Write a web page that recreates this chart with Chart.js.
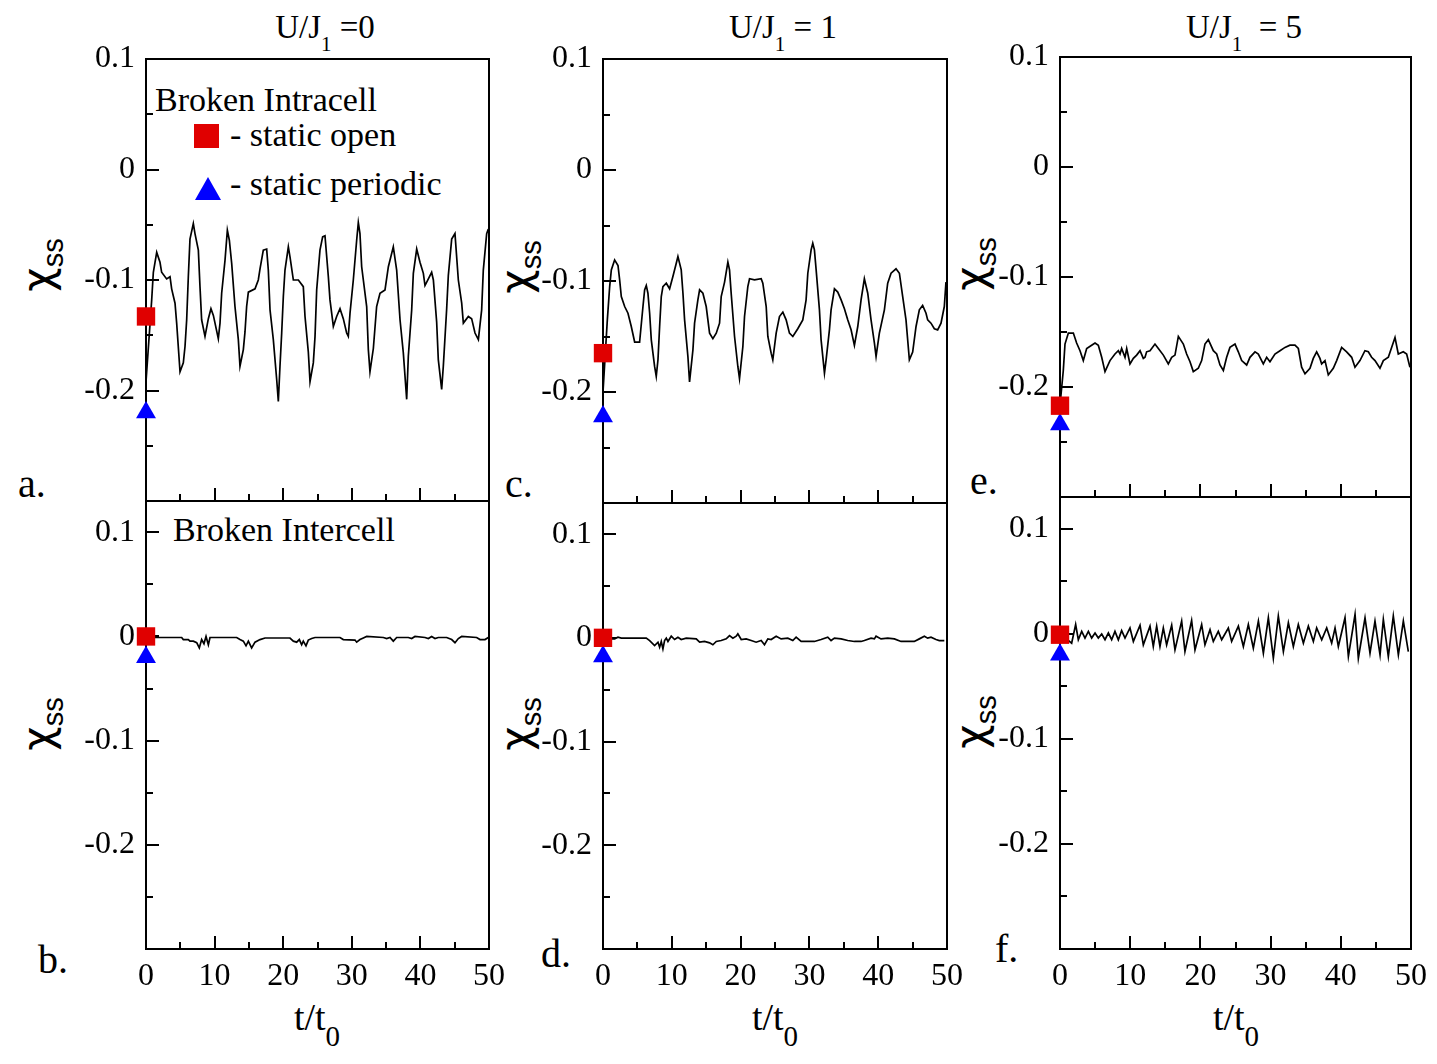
<!DOCTYPE html>
<html>
<head>
<meta charset="utf-8">
<script src="https://cdn.jsdelivr.net/npm/chart.js@4.4.1/dist/chart.umd.min.js"></script>
<style>
  body { margin: 0; background: #fff; }
  #page { position: relative; width: 1437px; height: 1064px; overflow: hidden;
          font-family: "Liberation Serif", "Times New Roman", serif; color: #000; }
  .panel { position: absolute; }
  .txt { position: absolute; white-space: nowrap; line-height: 1; }
  .title { font-size: 33px; transform: translateX(-50%); }
  .title sub, .tlab sub { position: relative; vertical-align: baseline; }
  .title sub { font-size: 21px; top: 13px; }
  .tlab { font-size: 38px; transform: translateX(-50%); }
  .tlab sub { font-size: 29px; top: 16px; }
  .chi { font-family: "DejaVu Sans", sans-serif; font-size: 42px;
         transform: translate(-50%, -50%) rotate(-90deg); }
  .chi sub { font-family: "Liberation Sans", sans-serif; font-size: 29px; position: relative;
             top: 11px; vertical-align: baseline; }
  .let { font-size: 40px; }
  .leg { font-size: 34px; }
  .sq { position: absolute; background: #e00000; }
  .tri { position: absolute; width: 0; height: 0; border-left: 13px solid transparent;
         border-right: 13px solid transparent; border-bottom: 23px solid #0000ff; }
</style>
</head>
<body>
<div id="page">
  <div class="txt title" style="left:325px; top:11px">U/J<sub>1</sub> =0</div>
  <div class="txt title" style="left:783px; top:11px">U/J<sub>1</sub> = 1</div>
  <div class="txt title" style="left:1244px; top:11px">U/J<sub>1</sub> &nbsp;= 5</div>

  <div class="txt chi" style="left:38px; top:265px">χ<sub>ss</sub></div>
  <div class="txt chi" style="left:38px; top:724px">χ<sub>ss</sub></div>
  <div class="txt chi" style="left:516px; top:267px">χ<sub>ss</sub></div>
  <div class="txt chi" style="left:516px; top:724px">χ<sub>ss</sub></div>
  <div class="txt chi" style="left:971px; top:264px">χ<sub>ss</sub></div>
  <div class="txt chi" style="left:971px; top:722px">χ<sub>ss</sub></div>

  <div class="txt let" style="left:18px; top:464px">a.</div>
  <div class="txt let" style="left:38px; top:940px">b.</div>
  <div class="txt let" style="left:505px; top:464px">c.</div>
  <div class="txt let" style="left:541px; top:934px">d.</div>
  <div class="txt let" style="left:970px; top:461px">e.</div>
  <div class="txt let" style="left:995px; top:929px">f.</div>

  <div class="txt tlab" style="left:317px; top:998px">t/t<sub>0</sub></div>
  <div class="txt tlab" style="left:775px; top:998px">t/t<sub>0</sub></div>
  <div class="txt tlab" style="left:1236px; top:998px">t/t<sub>0</sub></div>

  <div class="txt leg" style="left:155px; top:83px">Broken Intracell</div>
  <div class="sq" style="left:194px; top:124px; width:25px; height:24px"></div>
  <div class="txt leg" style="left:230px; top:118px">- static open</div>
  <div class="tri" style="left:195px; top:177px"></div>
  <div class="txt leg" style="left:230px; top:167px">- static periodic</div>
  <div class="txt leg" style="left:173px; top:513px">Broken Intercell</div>
</div>

<script>
// tick values
const xMajor = [0, 10, 20, 30, 40, 50];
const xMinor = [5, 15, 25, 35, 45];
const yMajor = [0.1, 0, -0.1, -0.2];
const yMinor = [0.05, -0.05, -0.15, -0.25];
const yMin = -0.3;
const yMaxTop = 0.1;
const yMaxBottom = 0.13;

// static values at t = 0, panels a..f
const staticOpen = [-0.133, 0.0, -0.165, 0.0, -0.217, -0.001];
const staticPeriodic = [-0.220, -0.020, -0.222, -0.018, -0.234, -0.020];

// [t/t0, chi_ss]
const seriesA = [[0,-0.192],[0.83,-0.118],[1.07,-0.093],[1.56,-0.075],[2.04,-0.084],[2.28,-0.093],[3.01,-0.099],[3.50,-0.097],[3.74,-0.108],[4.23,-0.121],
  [4.47,-0.139],[4.96,-0.183],[5.44,-0.175],[5.69,-0.160],[5.93,-0.136],[6.17,-0.097],[6.41,-0.063],[6.90,-0.049],[7.14,-0.058],[7.63,-0.073],
  [7.87,-0.106],[8.11,-0.136],[8.60,-0.151],[9.09,-0.135],[9.47,-0.126],[9.82,-0.132],[10.06,-0.139],[10.54,-0.153],[10.79,-0.139],[11.03,-0.112],
  [11.52,-0.082],[11.86,-0.055],[12.15,-0.064],[12.49,-0.085],[12.97,-0.124],[13.46,-0.154],[13.70,-0.178],[14.19,-0.163],[14.43,-0.147],[14.67,-0.124],
  [14.92,-0.111],[15.89,-0.108],[16.37,-0.100],[16.62,-0.090],[17.10,-0.073],[17.59,-0.072],[17.83,-0.091],[18.08,-0.127],[18.56,-0.154],[19.05,-0.190],
  [19.29,-0.210],[19.53,-0.178],[19.78,-0.148],[20.02,-0.115],[20.26,-0.091],[20.75,-0.070],[20.99,-0.079],[21.48,-0.100],[22.21,-0.100],[22.93,-0.106],
  [23.18,-0.133],[23.66,-0.165],[23.91,-0.192],[24.39,-0.175],[24.64,-0.151],[24.88,-0.109],[25.36,-0.073],[25.75,-0.061],[26.09,-0.060],[26.58,-0.097],
  [26.82,-0.118],[27.31,-0.142],[27.79,-0.133],[28.28,-0.126],[28.76,-0.135],[29.25,-0.148],[29.49,-0.151],[29.74,-0.130],[30.22,-0.100],[30.71,-0.064],
  [30.95,-0.048],[31.19,-0.058],[31.44,-0.088],[32.17,-0.124],[32.41,-0.163],[32.65,-0.183],[33.14,-0.162],[33.62,-0.124],[34.11,-0.112],[34.84,-0.109],
  [35.33,-0.088],[36.05,-0.070],[36.54,-0.091],[37.03,-0.136],[37.51,-0.166],[38.00,-0.208],[38.24,-0.169],[38.73,-0.127],[38.97,-0.094],[39.46,-0.072],
  [39.94,-0.084],[40.43,-0.094],[40.67,-0.105],[41.16,-0.099],[41.64,-0.093],[41.89,-0.100],[42.37,-0.138],[42.61,-0.172],[43.10,-0.199],[43.34,-0.178],
  [43.83,-0.126],[44.07,-0.096],[44.56,-0.063],[45.04,-0.058],[45.53,-0.100],[46.02,-0.121],[46.26,-0.139],[46.99,-0.133],[47.47,-0.135],[47.96,-0.148],
  [48.45,-0.154],[48.93,-0.127],[49.17,-0.091],[49.66,-0.058],[49.90,-0.054]];

const seriesB = [[0,0.0],[1.07,-0.001],[5.20,-0.001],[5.44,-0.003],[6.17,-0.003],[6.41,-0.0045],[6.90,-0.0045],[7.39,-0.006],[7.77,-0.011],[8.11,-0.003],
  [8.45,-0.007],[8.75,0.0],[9.09,-0.008],[9.33,-0.001],[13.22,-0.001],[13.70,-0.003],[14.19,-0.0045],[14.58,-0.009],[14.92,-0.0045],[15.40,-0.011],
  [15.89,-0.0055],[16.62,-0.003],[17.35,-0.0015],[20.99,-0.0015],[21.48,-0.0045],[21.96,-0.0055],[22.35,-0.003],[22.69,-0.008],[22.93,-0.0045],[23.32,-0.009],
  [23.66,-0.0035],[24.15,-0.002],[24.64,-0.001],[28.28,-0.001],[28.76,-0.003],[30.47,-0.0035],[30.71,-0.0055],[31.19,-0.003],[31.68,-0.0015],[32.17,0.0],
  [34.60,-0.001],[35.08,-0.002],[35.57,-0.001],[36.05,-0.0045],[36.54,-0.001],[38.24,-0.001],[38.73,-0.002],[39.21,0.0],[40.67,-0.001],[41.16,-0.002],
  [41.64,0.0],[42.13,-0.002],[42.61,-0.001],[43.83,-0.001],[44.56,-0.003],[45.04,-0.006],[45.53,-0.002],[46.02,0.0],[48.20,-0.001],[48.69,-0.003],
  [49.42,-0.003],[49.90,-0.001]];

const seriesC = [[0,-0.200],[0.63,-0.135],[0.97,-0.105],[1.21,-0.090],[1.69,-0.081],[2.18,-0.086],[2.42,-0.099],[2.66,-0.114],[3.15,-0.123],[3.63,-0.129],
  [4.11,-0.141],[4.60,-0.155],[5.32,-0.155],[5.81,-0.123],[6.05,-0.108],[6.29,-0.104],[6.53,-0.111],[6.78,-0.129],[7.02,-0.153],[7.50,-0.177],
  [7.74,-0.186],[7.99,-0.171],[8.23,-0.141],[8.47,-0.114],[8.71,-0.105],[9.20,-0.102],[9.68,-0.107],[10.16,-0.096],[10.65,-0.084],[10.89,-0.078],
  [11.37,-0.090],[11.62,-0.111],[11.86,-0.135],[12.34,-0.168],[12.58,-0.191],[13.07,-0.162],[13.31,-0.138],[13.79,-0.117],[14.04,-0.108],[14.52,-0.111],
  [15.00,-0.123],[15.49,-0.147],[15.97,-0.152],[16.46,-0.147],[16.94,-0.138],[17.18,-0.114],[17.67,-0.101],[18.15,-0.083],[18.39,-0.090],[18.63,-0.111],
  [19.12,-0.150],[19.60,-0.177],[19.84,-0.188],[20.33,-0.159],[20.57,-0.132],[21.05,-0.105],[21.30,-0.098],[22.02,-0.099],[22.99,-0.098],[23.23,-0.102],
  [23.72,-0.123],[23.96,-0.150],[24.44,-0.165],[24.68,-0.171],[25.17,-0.147],[25.65,-0.132],[26.14,-0.128],[26.62,-0.135],[27.10,-0.147],[27.59,-0.150],
  [28.31,-0.143],[29.04,-0.135],[29.52,-0.117],[29.77,-0.093],[30.25,-0.072],[30.49,-0.066],[30.73,-0.072],[30.98,-0.090],[31.46,-0.126],[31.70,-0.153],
  [32.19,-0.183],[32.43,-0.171],[32.91,-0.144],[33.15,-0.126],[33.64,-0.107],[34.12,-0.110],[34.61,-0.117],[35.09,-0.125],[35.57,-0.135],[36.06,-0.144],
  [36.54,-0.158],[37.03,-0.141],[37.51,-0.117],[37.99,-0.098],[38.48,-0.111],[38.96,-0.135],[39.45,-0.156],[39.69,-0.168],[40.17,-0.147],[40.90,-0.126],
  [41.38,-0.102],[41.87,-0.093],[42.59,-0.089],[43.08,-0.093],[43.56,-0.114],[44.04,-0.135],[44.53,-0.171],[45.01,-0.164],[45.50,-0.141],[45.98,-0.126],
  [46.46,-0.122],[46.95,-0.129],[47.19,-0.135],[47.67,-0.138],[48.16,-0.143],[48.64,-0.144],[49.13,-0.138],[49.61,-0.123],[49.85,-0.101]];

const seriesD = [[0,-0.001],[1.69,-0.001],[2.18,0.0006],[2.66,-0.0003],[6.29,-0.0003],[6.78,-0.0026],[7.50,-0.0074],[7.99,-0.0042],[8.23,-0.009],[8.47,-0.0035],
  [8.71,-0.0106],[8.95,-0.0026],[9.20,-0.0003],[9.44,-0.0035],[9.92,0.0016],[10.41,-0.0016],[10.89,0.0006],[11.37,-0.0016],[12.10,-0.0003],[13.55,-0.001],
  [14.04,-0.0042],[14.76,-0.0035],[15.49,-0.0048],[15.97,-0.0067],[16.46,-0.0035],[17.18,-0.0026],[17.91,-0.001],[18.39,0.0022],[18.88,-0.0003],[19.36,0.0016],
  [19.60,0.0038],[20.09,-0.0016],[20.81,-0.001],[21.54,-0.0026],[22.26,-0.0042],[22.99,-0.0026],[23.47,-0.0067],[23.96,-0.001],[24.44,-0.0016],[25.17,0.0016],
  [25.89,-0.001],[26.86,-0.0003],[27.59,-0.0026],[28.07,0.0006],[28.80,-0.0035],[30.73,-0.0035],[31.70,-0.0016],[32.67,0.0006],[33.15,-0.0026],[33.64,-0.0003],
  [34.61,-0.001],[35.57,-0.0026],[36.54,-0.0035],[37.51,-0.0035],[37.99,-0.0026],[38.96,-0.0003],[39.45,-0.001],[39.69,0.0016],[40.41,-0.001],[41.38,-0.0003],
  [42.35,-0.001],[43.32,-0.0035],[45.25,-0.0035],[45.98,-0.001],[46.71,0.0016],[47.19,-0.0003],[47.67,0.0006],[48.40,-0.0016],[48.88,-0.0026],[49.61,-0.0026]];

const seriesE = [[0.1,-0.210],[0.47,-0.185],[0.71,-0.161],[1.19,-0.151],[1.90,-0.151],[2.37,-0.160],[2.85,-0.167],[3.32,-0.176],[3.80,-0.165],[4.51,-0.162],
  [4.99,-0.160],[5.46,-0.162],[5.94,-0.173],[6.41,-0.186],[7.12,-0.176],[7.83,-0.170],[8.31,-0.167],[8.55,-0.170],[8.78,-0.165],[9.26,-0.173],
  [9.50,-0.165],[9.97,-0.179],[10.45,-0.174],[10.92,-0.171],[11.40,-0.167],[11.87,-0.174],[12.11,-0.173],[12.34,-0.168],[12.82,-0.167],[13.53,-0.161],
  [14.01,-0.165],[14.72,-0.171],[15.43,-0.179],[15.91,-0.173],[16.38,-0.171],[16.86,-0.154],[17.57,-0.161],[18.04,-0.170],[18.52,-0.177],[18.99,-0.186],
  [19.70,-0.183],[20.18,-0.176],[20.65,-0.161],[21.13,-0.157],[21.84,-0.167],[22.32,-0.170],[22.79,-0.180],[23.27,-0.185],[23.74,-0.173],[24.21,-0.164],
  [24.93,-0.161],[25.40,-0.168],[25.88,-0.176],[26.59,-0.180],[27.06,-0.173],[27.78,-0.168],[28.25,-0.170],[28.96,-0.179],[29.44,-0.173],[29.91,-0.177],
  [30.62,-0.170],[31.34,-0.167],[32.05,-0.164],[32.76,-0.162],[33.47,-0.162],[33.95,-0.165],[34.42,-0.182],[34.90,-0.188],[35.61,-0.183],[36.08,-0.174],
  [36.56,-0.168],[37.03,-0.174],[37.27,-0.179],[37.75,-0.176],[38.22,-0.189],[38.93,-0.183],[39.41,-0.176],[40.12,-0.164],[40.83,-0.168],[41.55,-0.173],
  [42.02,-0.182],[42.73,-0.176],[43.44,-0.167],[43.92,-0.168],[44.39,-0.173],[44.87,-0.176],[45.58,-0.183],[46.06,-0.176],[46.77,-0.173],[47.24,-0.164],
  [47.72,-0.155],[48.19,-0.170],[48.90,-0.168],[49.38,-0.170],[49.85,-0.182]];

const seriesF = [[0,0.0],[1.66,-0.009],[2.23,0.0087],[2.61,-0.0058],[3.09,0.0022],[3.56,-0.0042],[4.04,0.0022],[4.51,-0.0042],[4.99,0.0006],[5.46,-0.0042],
  [5.94,-0.0003],[6.41,-0.0058],[6.89,0.0006],[7.36,-0.0058],[7.83,0.0022],[8.31,-0.0058],[8.78,0.0029],[9.26,-0.0042],[9.97,0.0054],[10.45,-0.0074],
  [11.40,0.0080],[11.87,-0.0106],[12.82,0.0071],[13.29,-0.0122],[13.77,0.0071],[14.24,-0.0122],[14.72,0.0054],[15.19,-0.0106],[15.91,0.0080],[16.38,-0.0154],
  [17.33,0.0119],[17.80,-0.0170],[18.75,0.0125],[19.23,-0.0154],[20.18,0.0087],[20.65,-0.0106],[21.37,0.0038],[21.84,-0.0074],[22.55,0.0022],[23.03,-0.0058],
  [23.98,0.0054],[24.45,-0.0074],[25.41,0.0071],[26.12,-0.0122],[26.83,0.0087],[27.54,-0.0138],[28.26,0.0119],[28.97,-0.0186],[29.68,0.0151],[30.39,-0.0234],
  [31.10,0.0167],[31.82,-0.0170],[32.53,0.0103],[33.24,-0.0122],[33.95,0.0087],[34.67,-0.0090],[35.38,0.0071],[36.09,-0.0074],[36.56,0.0054],[37.28,-0.0058],
  [37.99,0.0054],[38.70,-0.0090],[39.18,0.0054],[39.65,-0.0122],[40.60,0.0151],[41.08,-0.0218],[42.03,0.0183],[42.50,-0.0234],[43.45,0.0151],[44.16,-0.0186],
  [44.87,0.0119],[45.59,-0.0202],[46.06,0.0135],[46.77,-0.0218],[47.48,0.0167],[48.20,-0.0202],[48.91,0.0119],[49.62,-0.0170]];

const serif = '"Liberation Serif", "Times New Roman", serif';

// chart areas on the page (left, top, right, bottom)
const panels = [
  { data: seriesA, box: [146, 59, 489, 501], yMax: yMaxTop, showX: false },
  { data: seriesB, box: [146, 501, 489, 949], yMax: yMaxBottom, showX: true },
  { data: seriesC, box: [603, 59, 947, 503], yMax: yMaxTop, showX: false },
  { data: seriesD, box: [603, 503, 947, 949], yMax: yMaxBottom, showX: true },
  { data: seriesE, box: [1060, 57, 1411, 497], yMax: yMaxTop, showX: false },
  { data: seriesF, box: [1060, 497, 1411, 949], yMax: yMaxBottom, showX: true }
];

// room around each chart area for the tick labels (must exceed label half-height + padding)
const PAD_L = 90, PAD_T = 36, PAD_R = 35, PAD_B = 50;

// frame plus inward ticks
const frameTicks = {
  id: 'frameTicks',
  beforeDatasetsDraw(chart) {
    const { ctx, chartArea: a, scales: { x, y } } = chart;
    ctx.save();
    ctx.strokeStyle = '#000';
    ctx.lineWidth = 2;
    ctx.beginPath();
    const xt = (vals, len) => vals.forEach(v => {
      if (v <= x.min || v >= x.max) return;
      const px = Math.round(x.getPixelForValue(v));
      ctx.moveTo(px, a.bottom);
      ctx.lineTo(px, a.bottom - len);
    });
    const yt = (vals, len) => vals.forEach(v => {
      if (v <= y.min || v >= y.max) return;
      const py = Math.round(y.getPixelForValue(v));
      ctx.moveTo(a.left, py);
      ctx.lineTo(a.left + len, py);
    });
    xt(xMajor, 13); xt(xMinor, 7);
    yt(yMajor, 13); yt(yMinor, 7);
    ctx.stroke();
    ctx.strokeRect(a.left, a.top, a.right - a.left, a.bottom - a.top);
    ctx.restore();
  }
};

const page = document.getElementById('page');

panels.forEach((p, i) => {
  const [L, T, R, B] = p.box;
  const w = R - L + PAD_L + PAD_R;
  const h = B - T + PAD_T + PAD_B;
  const div = document.createElement('div');
  div.className = 'panel';
  div.style.left = (L - PAD_L) + 'px';
  div.style.top = (T - PAD_T) + 'px';
  const cv = document.createElement('canvas');
  cv.width = w; cv.height = h;
  cv.style.width = w + 'px'; cv.style.height = h + 'px';
  div.appendChild(cv);
  page.appendChild(div);

  new Chart(cv, {
    type: 'scatter',
    data: {
      datasets: [
        { data: [{ x: 0, y: staticOpen[i] }], pointStyle: 'rect', pointRadius: 13,
          backgroundColor: '#e00000', borderWidth: 0, clip: false },
        { data: [{ x: 0, y: staticPeriodic[i] }], pointStyle: 'triangle', pointRadius: 11.5,
          backgroundColor: '#0000ff', borderWidth: 0, clip: false },
        { data: p.data.map(d => ({ x: d[0], y: d[1] })), showLine: true, pointRadius: 0,
          borderColor: '#000', borderWidth: 1.7, tension: 0, fill: false }
      ]
    },
    options: {
      responsive: false,
      animation: false,
      devicePixelRatio: 1,
      layout: { padding: { left: 0, top: PAD_T, right: PAD_R, bottom: 0 } },
      plugins: { legend: { display: false }, tooltip: { enabled: false } },
      scales: {
        x: {
          type: 'linear', min: 0, max: 50,
          grid: { display: false, drawTicks: false },
          border: { display: false },
          afterBuildTicks: s => { s.ticks = xMajor.map(v => ({ value: v })); },
          afterFit: s => { s.height = PAD_B; },
          ticks: { display: p.showX, autoSkip: false, maxRotation: 0, padding: 8,
                   color: '#000', font: { family: serif, size: 32 } }
        },
        y: {
          type: 'linear', min: yMin, max: p.yMax,
          grid: { display: false, drawTicks: false },
          border: { display: false },
          afterBuildTicks: s => { s.ticks = yMajor.map(v => ({ value: v })); },
          afterFit: s => { s.width = PAD_L; },
          ticks: { padding: 11, color: '#000', font: { family: serif, size: 32 },
                   callback: v => String(Math.round(v * 10) / 10) }
        }
      }
    },
    plugins: [frameTicks]
  });
});
</script>
</body>
</html>
